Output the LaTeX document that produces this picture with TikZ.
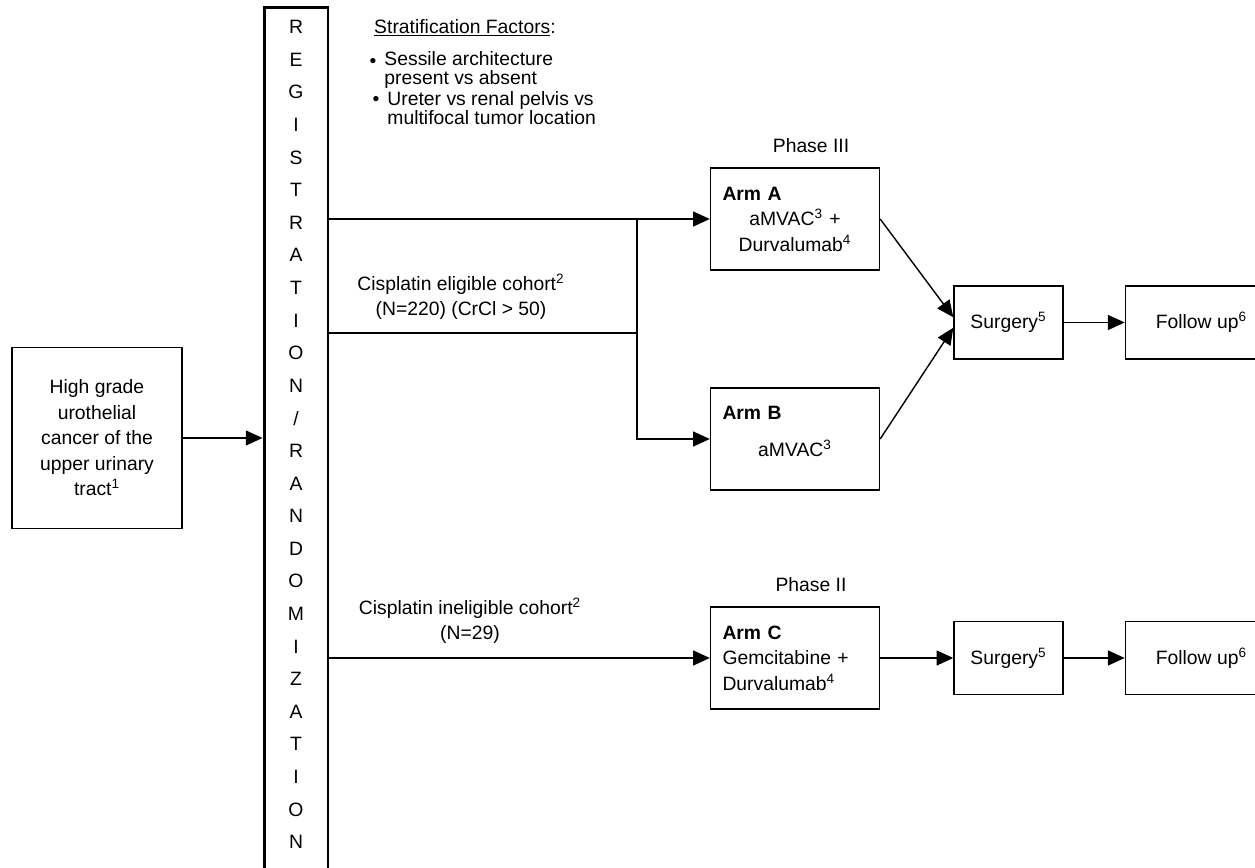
\documentclass[tikz,border=0pt]{standalone}
\usepackage{fontspec}
\setmainfont{Liberation Sans}
\usetikzlibrary{arrows.meta,positioning}

\begin{document}
\begin{tikzpicture}[x=0.02cm, y=-0.02cm, line width=0.8pt,
	every node/.style={font=\fontsize{11}{14.5}\selectfont, inner sep=1pt},
	>={Triangle[length=9.5pt, width=8.5pt]},
	box/.style={draw, line width=0.8pt, align=center},
	regbox/.style={draw, line width=1.7pt},
	armbox/.style={box, minimum width=3.38cm, minimum height=2.04cm, text width=2.9cm},
	stepbox/.style={box, minimum width=2.18cm, minimum height=1.46cm},
	endbox/.style={box, minimum width=3.04cm, minimum height=1.46cm},
	factor/.style={right, align=left, font=\fontsize{11}{10.5}\selectfont}]
	\useasboundingbox (0,0) rectangle (1255,868);
	\clip (0,0) rectangle (1255,868);
	% registration / randomization column
	\node[regbox, anchor=north, minimum width=1.28cm, minimum height=18cm] (reg) at (296,6) {};
	\foreach \ch [count=\i from 0] in {R,E,G,I,S,T,R,A,T,I,O,N,/,R,A,N,D,O,M,I,Z,A,T,I,O,N}
		{\node (reg\i) at (296,{27+\i*32.6}) {\ch};}
	\node[box, minimum width=3.4cm, minimum height=3.62cm] (src) at (97,438) {High grade\\urothelial\\cancer of the\\upper urinary\\tract\textsuperscript{1}};
	\draw[->] (src) -- (src -| reg.west);
	% stratification factors
	\node (strat) at (465,28) {\underline{Stratification Factors}:};
	\node (dot1) at (373,63) {\textbullet};
	\node[factor] (fac1) at (382,70) {Sessile architecture\\present vs absent};
	\node (dot2) at (376,101) {\textbullet};
	\node[factor] (fac2) at (385,108) {Ureter vs renal pelvis vs\\multifocal tumor location};
	% arms
	\node (ph3) at (811,146) {Phase III};
	\node[armbox] (armA) at (795,219) {\makebox[2.9cm][l]{\textbf{Arm A}}\\aMVAC\textsuperscript{3} +\\Durvalumab\textsuperscript{4}};
	\node[armbox] (armB) at (795,439) {\makebox[2.9cm][l]{\textbf{Arm B}}\\[6.5pt]aMVAC\textsuperscript{3}\\[-6pt]\mbox{}};
	\node (ph2) at (811,585) {Phase II};
	\node[armbox, align=left] (armC) at (795,658) {\textbf{Arm C}\\Gemcitabine +\\Durvalumab\textsuperscript{4}};
	\node[stepbox] (surg1) at (1008.5,322.5) {Surgery\textsuperscript{5}};
	\node[endbox, right=1.22cm of surg1] (fol1) {Follow up\textsuperscript{6}};
	\node[stepbox] (surg2) at (1008.5,658) {Surgery\textsuperscript{5}};
	\node[endbox, right=1.22cm of surg2] (fol2) {Follow up\textsuperscript{6}};
	% cohorts
	\coordinate (jn) at (637,333);
	\node[align=center] (elig) at (461,297) {Cisplatin eligible cohort\textsuperscript{2}\\(N=220) (CrCl > 50)};
	\node[align=center] (inelig) at (470,621) {Cisplatin ineligible cohort\textsuperscript{2}\\(N=29)};
	\draw[->] (reg.east |- armA) -- (armA.west);
	\draw (reg.east |- jn) -- (jn);
	\draw[->] (jn |- armA) |- (armB.west);
	\draw[->] (reg.east |- armC) -- (armC.west);
	\draw[->] (armA.east) -- ([yshift=3pt]surg1.west);
	\draw[->] (armB.east) -- ([yshift=-3pt]surg1.west);
	\draw[->] (surg1) -- (fol1);
	\draw[->] (armC) -- (surg2);
	\draw[->] (surg2) -- (fol2);
\end{tikzpicture}
\end{document}
